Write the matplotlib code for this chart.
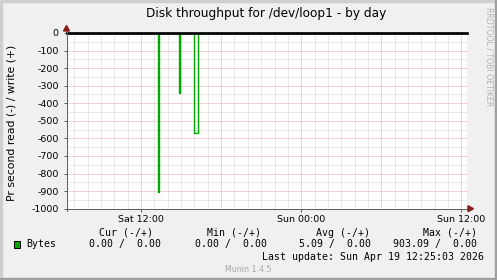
import matplotlib
matplotlib.use('Agg')
import matplotlib.pyplot as plt
from matplotlib.patches import Rectangle, Polygon
import math

plt.rcParams['axes.unicode_minus'] = False
plt.rcParams['font.family'] = ['DejaVu Sans']

# ---------------- data ----------------
title = "Disk throughput for /dev/loop1 - by day"
ylabel = "Pr second read (-) / write (+)"
# time in hours since Sat 00:00
start_h = 6 + 25 / 60 + 3 / 3600
end_h = start_h + 30
read_times = [start_h, 13.25, 13.3333, 14.8333, 14.9167, 16.0, 16.25, end_h]
read_values = [0, 903.09, 0, 343, 0, 571, 0, 0]
write_times = [start_h, end_h]
write_values = [0, 0]
xtick_hours = [12, 24, 36]
xtick_labels = ['Sat 12:00', 'Sun 00:00', 'Sun 12:00']
yticks = list(range(-1000, 1, 100))
legend_name = 'Bytes'
stats_headers = ['Cur (-/+)', 'Min (-/+)', 'Avg (-/+)', 'Max (-/+)']
stats_values = ['0.00 /  0.00', '0.00 /  0.00', '5.09 /  0.00', '903.09 /  0.00']
last_update = 'Last update: Sun Apr 19 12:25:03 2026'
version = 'Munin 1.4.5'
watermark = 'RRDTOOL / TOBI OETIKER'

# ---------------- layout ----------------
W, H = 497, 280
PX = 0.72  # one pixel in points at dpi 100
GREEN = '#00AA00'

fig = plt.figure(figsize=(W / 100, H / 100), dpi=100, facecolor='#F0F0F0')


def fx(x):
    return x / W


def fy(y):
    return 1 - y / H


# frame shading
fig.patches.append(Rectangle((0, fy(2)), 1, 2 / H, transform=fig.transFigure, color='#CFCFCF', zorder=0))
fig.patches.append(Rectangle((0, 0), 2 / W, 1, transform=fig.transFigure, color='#CFCFCF', zorder=0))
fig.patches.append(Rectangle((0, 0), 1, 2.5 / H, transform=fig.transFigure, color='#A0A0A0', zorder=0))
fig.patches.append(Rectangle((fx(W - 2.5), 0), 2.5 / W, 1, transform=fig.transFigure, color='#A0A0A0', zorder=0))

L, R, T, B = 66.5, 467.0, 33.0, 208.7
ax = fig.add_axes([fx(L), fy(B), (R - L) / W, (B - T) / H])
ax.set_facecolor('white')
ax.set_xlim(start_h, end_h)
ax.set_ylim(-1000, 0)

# grid
dot = (0, (1, 1))
minor_c = (0.56, 0.56, 0.56, 0.4)
major_c = (0.87, 0.31, 0.31, 0.5)
for h in range(math.ceil(start_h), int(end_h) + 1):
    if h % 6 == 0:
        ax.axvline(h, color=major_c, lw=PX, ls=dot, zorder=1)
    else:
        ax.axvline(h, color=minor_c, lw=PX, ls=dot, zorder=1)
for v in range(-950, 0, 50):
    if v % 100 == 0:
        ax.axhline(v, color=major_c, lw=PX, ls=dot, zorder=1)
    else:
        ax.axhline(v, color=minor_c, lw=PX, ls=dot, zorder=1)

# series
ax.plot(write_times, write_values, drawstyle='steps-post', color=GREEN, lw=PX, zorder=3, clip_on=False)
ax.plot(read_times, [-v for v in read_values], drawstyle='steps-post', color=GREEN, lw=PX * 1.4, zorder=3)
ax.axhline(0, color='black', lw=PX * 2.7, zorder=4, clip_on=False)

# axes
for s in ['top', 'right']:
    ax.spines[s].set_visible(False)
for s in ['left', 'bottom']:
    ax.spines[s].set_color('#606060')
    ax.spines[s].set_linewidth(PX)
ax.set_yticks(yticks)
ax.set_yticklabels([str(v) for v in yticks])
ax.set_xticks(xtick_hours)
ax.set_xticklabels(xtick_labels)
ax.tick_params(axis='y', length=2, width=PX, color='#606060', direction='out', pad=3.5, labelsize=6.8)
ax.tick_params(axis='x', length=2, width=PX, color='#606060', direction='out', pad=2.2, labelsize=6.8)

# axis extensions and arrows
fig.lines.append(plt.Line2D([fx(L), fx(L)], [fy(B + 2), fy(29)], transform=fig.transFigure, color='#606060', lw=PX))
fig.lines.append(plt.Line2D([fx(L - 2), fx(470)], [fy(B), fy(B)], transform=fig.transFigure, color='#606060', lw=PX))
fig.patches.append(Polygon([(fx(L - 3), fy(31)), (fx(L + 3), fy(31)), (fx(L), fy(25.5))],
                           closed=True, transform=fig.transFigure, color='#8B1A1A', zorder=5))
fig.patches.append(Polygon([(fx(468), fy(B - 3)), (fx(468), fy(B + 3)), (fx(473.5), fy(B))],
                           closed=True, transform=fig.transFigure, color='#8B1A1A', zorder=5))

# texts
fig.text(fx(266.5), fy(14), title, ha='center', va='center', fontsize=8.7)
fig.text(fx(12), fy(122.8), ylabel, ha='center', va='center', rotation=90, fontsize=7.8)
fig.text(fx(488.5), fy(57), watermark, ha='center', va='center', rotation=270, fontsize=5.6, color='#B0B0B0')

mono = 'DejaVu Sans Mono'
header_x = [99, 207, 316, 423]
value_x = [89.3, 195, 299, 392.7]
for hx, txt in zip(header_x, stats_headers):
    fig.text(fx(hx), fy(232.7), txt, ha='left', va='center', fontsize=7.1, family=mono)
for vx, txt in zip(value_x, stats_values):
    fig.text(fx(vx), fy(244.3), txt, ha='left', va='center', fontsize=7.1, family=mono)
fig.patches.append(Rectangle((fx(13.5), fy(247.5)), 6.5 / W, 6.5 / H, transform=fig.transFigure,
                             facecolor=GREEN, edgecolor='black', lw=PX, zorder=5))
fig.text(fx(26.7), fy(244.3), legend_name, ha='left', va='center', fontsize=7.1, family=mono)
fig.text(fx(483.5), fy(256.7), last_update, ha='right', va='center', fontsize=7.1, family=mono)
fig.text(fx(248.7), fy(269), version, ha='center', va='center', fontsize=5.7, color='#A8A8A8')

fig.savefig('out.png', dpi=100, facecolor=fig.get_facecolor())
